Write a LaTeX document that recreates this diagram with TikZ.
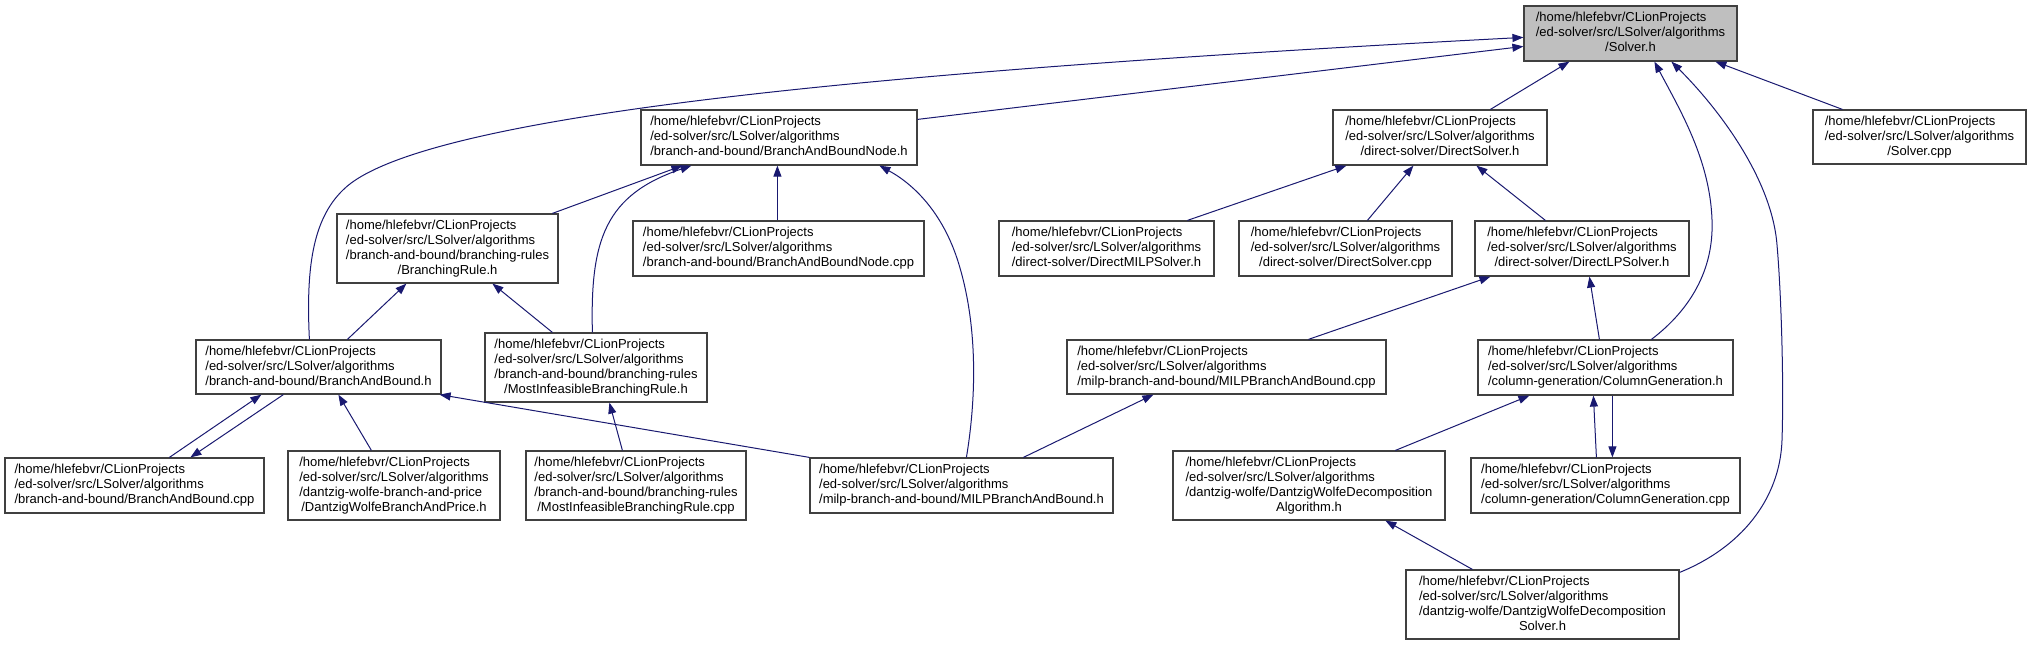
\documentclass[tikz,border=0pt]{standalone}
\usepackage{fontspec}
\setmainfont{Liberation Sans}
\usetikzlibrary{arrows.meta,calc}
\definecolor{navyline}{RGB}{25,25,112}
\definecolor{boxgray}{RGB}{191,191,191}
\newcommand{\tthree}[3]{\begin{tabular}{@{}l@{}}#1\\#2\\\multicolumn{1}{@{}c@{}}{#3}\end{tabular}}
\newcommand{\tfour}[4]{\begin{tabular}{@{}l@{}}#1\\#2\\#3\\\multicolumn{1}{@{}c@{}}{#4}\end{tabular}}
\newcommand{\hp}{/home/hlefebvr/CLionProjects}
\newcommand{\ep}{/ed-solver/src/LSolver/algorithms}
\begin{document}
\begin{tikzpicture}[x=1pt,y=-1pt,
  filebox/.style={draw=black!75, line width=1.2pt, fill=white, inner sep=0pt,
    font=\fontsize{13}{15}\selectfont},
  dep/.style={draw=navyline, line width=1pt, -{Triangle[length=11pt,width=8pt]}, navyline}]
\useasboundingbox (0,0) rectangle (2033,645);
% row 1
\node[filebox, fill=boxgray, minimum width=213, minimum height=55] (solverh) at (1630.5,33.5) {\tthree{\hp}{\ep}{/Solver.h}};
% row 2
\node[filebox, minimum width=213, minimum height=54] (solvercpp) at (1919.5,137) {\tthree{\hp}{\ep}{/Solver.cpp}};
\node[filebox, minimum width=276, minimum height=55] (babnodeh) at (779,137.5) {\tthree{\hp}{\ep}{/branch-and-bound/BranchAndBoundNode.h}};
\node[filebox, minimum width=214, minimum height=55] (dsh) at (1440,137.5) {\tthree{\hp}{\ep}{/direct-solver/DirectSolver.h}};
% row 3
\node[filebox, minimum width=221, minimum height=69] (brh) at (447.5,248.5) {\tfour{\hp}{\ep}{/branch-and-bound/branching-rules}{/BranchingRule.h}};
\node[filebox, minimum width=291, minimum height=55] (babnodecpp) at (778.5,248.5) {\tthree{\hp}{\ep}{/branch-and-bound/BranchAndBoundNode.cpp}};
\node[filebox, minimum width=215, minimum height=55] (dmilp) at (1106.5,248.5) {\tthree{\hp}{\ep}{/direct-solver/DirectMILPSolver.h}};
\node[filebox, minimum width=213, minimum height=55] (dscpp) at (1345.5,248.5) {\tthree{\hp}{\ep}{/direct-solver/DirectSolver.cpp}};
\node[filebox, minimum width=214, minimum height=55] (dlp) at (1582,248.5) {\tthree{\hp}{\ep}{/direct-solver/DirectLPSolver.h}};
% row 4
\node[filebox, minimum width=245, minimum height=54] (babh) at (318.5,367) {\tthree{\hp}{\ep}{/branch-and-bound/BranchAndBound.h}};
\node[filebox, minimum width=222, minimum height=69] (mibrh) at (596,367.5) {\tfour{\hp}{\ep}{/branch-and-bound/branching-rules}{/MostInfeasibleBranchingRule.h}};
\node[filebox, minimum width=319, minimum height=54] (milpcpp) at (1226.5,367) {\tthree{\hp}{\ep}{/milp-branch-and-bound/MILPBranchAndBound.cpp}};
\node[filebox, minimum width=255, minimum height=55] (cgh) at (1605.5,367.5) {\tthree{\hp}{\ep}{/column-generation/ColumnGeneration.h}};
% row 5
\node[filebox, minimum width=259, minimum height=55] (babcpp) at (134.5,485.5) {\tthree{\hp}{\ep}{/branch-and-bound/BranchAndBound.cpp}};
\node[filebox, minimum width=212, minimum height=69] (dwbap) at (394,485.5) {\tfour{\hp}{\ep}{/dantzig-wolfe-branch-and-price}{/DantzigWolfeBranchAndPrice.h}};
\node[filebox, minimum width=220, minimum height=69] (mibrcpp) at (636,485.5) {\tfour{\hp}{\ep}{/branch-and-bound/branching-rules}{/MostInfeasibleBranchingRule.cpp}};
\node[filebox, minimum width=303, minimum height=55] (milph) at (961.5,485.5) {\tthree{\hp}{\ep}{/milp-branch-and-bound/MILPBranchAndBound.h}};
\node[filebox, minimum width=272, minimum height=69] (dwda) at (1309,485.5) {\tfour{\hp}{\ep}{/dantzig-wolfe/DantzigWolfeDecomposition}{Algorithm.h}};
\node[filebox, minimum width=269, minimum height=55] (cgcpp) at (1605.5,485.5) {\tthree{\hp}{\ep}{/column-generation/ColumnGeneration.cpp}};
% row 6
\node[filebox, minimum width=273, minimum height=69] (dwds) at (1542.5,604.5) {\tfour{\hp}{\ep}{/dantzig-wolfe/DantzigWolfeDecomposition}{Solver.h}};

% edges into Solver.h
\draw[dep] ($(babnodeh.north east)+(0,10)$) -- ($(solverh.north west)+(0,41)$);
\draw[dep] ($(babh.north west)+(114,0)$) .. controls (306,270) and (312,220) .. (343,190)
   .. controls (420,113) and (900,70) .. ($(solverh.north west)+(0,32)$);
\draw[dep] ($(dsh.north west)+(158,0)$) -- ($(solverh.south west)+(46,0)$);
\draw[dep] ($(solvercpp.north west)+(30,0)$) -- ($(solverh.south west)+(192,0)$);
\draw[dep] ($(cgh.north west)+(174,0)$) .. controls (1690,310) and (1714,270) .. (1712,220)
   .. controls (1710,160) and (1680,110) .. ($(solverh.south west)+(131,0)$);
\draw[dep] ($(dwds.north east)+(0,3)$) .. controls (1740,548) and (1780,500) .. (1782,440)
   .. controls (1784,380) and (1781,290) .. (1777,245)
   .. controls (1772,180) and (1720,110) .. ($(solverh.south west)+(148,0)$);
% edges into BranchAndBoundNode.h
\draw[dep] ($(brh.north west)+(216,0)$) -- ($(babnodeh.south west)+(42,0)$);
\draw[dep] ($(mibrh.north west)+(108,0)$) .. controls (590,240) and (605,195) .. ($(babnodeh.south west)+(51,0)$);
\draw[dep] ($(babnodecpp.north west)+(145,0)$) -- ($(babnodeh.south west)+(137,0)$);
\draw[dep] ($(milph.north west)+(157,0)$) .. controls (976,400) and (978,330) .. (960,268)
   .. controls (945,215) and (915,185) .. ($(babnodeh.south west)+(239,0)$);
% edges into BranchingRule.h
\draw[dep] ($(babh.north west)+(152,0)$) -- ($(brh.south west)+(70,0)$);
\draw[dep] ($(mibrh.north west)+(68,0)$) -- ($(brh.south west)+(156,0)$);
% BranchAndBound.h / .cpp
\draw[dep] ($(babcpp.north west)+(165,0)$) -- ($(babh.south west)+(66,0)$);
\draw[dep] ($(babh.south west)+(88,0)$) -- ($(babcpp.north west)+(186,0)$);
\draw[dep] ($(dwbap.north west)+(84,0)$) -- ($(babh.south west)+(143,0)$);
\draw[dep] (milph.north west) -- ($(babh.south east)+(-2,0)$);
% MostInfeasibleBranchingRule
\draw[dep] ($(mibrcpp.north west)+(97,0)$) -- ($(mibrh.south west)+(125,0)$);
% MILP
\draw[dep] ($(milph.north west)+(214,0)$) -- ($(milpcpp.south west)+(87,0)$);
\draw[dep] ($(milpcpp.north west)+(242,0)$) -- ($(dlp.south west)+(16,0)$);
% Column generation
\draw[dep] ($(cgh.north west)+(122,0)$) -- ($(dlp.south west)+(115,0)$);
\draw[dep] ($(dwda.north west)+(223,0)$) -- ($(cgh.south west)+(52,0)$);
\draw[dep] ($(cgcpp.north west)+(126,0)$) -- ($(cgh.south west)+(116,0)$);
\draw[dep] ($(cgh.south west)+(135,0)$) -- ($(cgcpp.north west)+(142,0)$);
\draw[dep] ($(dwds.north west)+(67,0)$) -- ($(dwda.south west)+(213,0)$);
% DirectSolver.h
\draw[dep] ($(dmilp.north west)+(189,0)$) -- ($(dsh.south west)+(14,0)$);
\draw[dep] ($(dscpp.north west)+(129,0)$) -- ($(dsh.south west)+(81,0)$);
\draw[dep] ($(dlp.north west)+(71,0)$) -- ($(dsh.south west)+(144,0)$);
\end{tikzpicture}
\end{document}
